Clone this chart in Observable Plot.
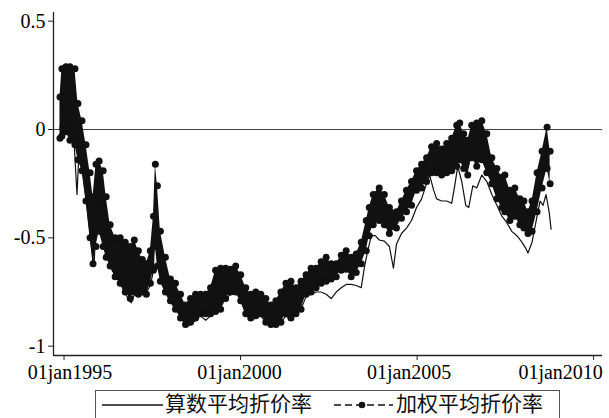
<!DOCTYPE html>
<html>
<head>
<meta charset="utf-8">
<script src="https://cdn.jsdelivr.net/npm/d3@7"></script>
<script src="https://cdn.jsdelivr.net/npm/@observablehq/plot@0.6"></script>
<style>
  body { margin: 0; background: #fff; }
  #chart { position: relative; width: 609px; height: 418px; overflow: hidden; background: #fff; }
  #chart svg { display: block; }
  .legend {
    position: absolute; left: 95px; top: 390px; width: 465px; height: 28px;
    border: 1.5px solid #555; border-bottom: none; box-sizing: border-box; background: #fff;
    font-family: "Noto Sans CJK SC", "Noto Sans", sans-serif; font-size: 21px; color: #111;
  }
  .legend .item { position: absolute; top: 0; height: 22px; line-height: 22px; white-space: nowrap; }
  .legend svg { position: absolute; top: 0; }
</style>
</head>
<body>
<div id="chart"></div>
<script>
// Weighted mean discount rate: daily range (high / low) per period
const wDates = ["1994-11-20","1994-12-10","1995-01-20","1995-03-03","1995-04-24","1995-05-25","1995-07-06","1995-08-16","1995-09-27","1995-10-28","1995-11-28","1995-12-30","1996-02-10","1996-03-12","1996-04-22","1996-06-13","1996-08-04","1996-09-25","1996-11-16","1996-12-28","1997-02-08","1997-03-21","1997-05-02","1997-06-12","1997-07-14","1997-08-03","1997-08-24","1997-09-24","1997-11-15","1998-01-06","1998-02-27","1998-04-20","1998-06-11","1998-08-02","1998-09-23","1998-11-13","1999-01-05","1999-02-25","1999-04-18","1999-06-09","1999-07-31","1999-09-21","1999-11-12","2000-01-03","2000-02-24","2000-04-16","2000-06-07","2000-07-29","2000-09-19","2000-11-10","2001-01-01","2001-02-22","2001-04-15","2001-06-06","2001-07-28","2001-09-18","2001-11-09","2001-12-31","2002-02-21","2002-04-14","2002-06-05","2002-07-27","2002-09-17","2002-11-08","2002-12-29","2003-02-19","2003-04-12","2003-06-03","2003-07-25","2003-08-25","2003-10-05","2003-12-06","2004-01-28","2004-03-20","2004-06-01","2004-07-23","2004-09-13","2004-11-04","2004-12-26","2005-02-16","2005-04-09","2005-05-31","2005-07-22","2005-09-12","2005-11-03","2005-12-25","2006-02-15","2006-03-18","2006-04-28","2006-06-09","2006-07-20","2006-09-10","2006-11-01","2006-12-23","2007-02-13","2007-04-06","2007-05-28","2007-06-28","2007-08-19","2007-10-09","2007-11-30","2008-01-11","2008-02-22","2008-04-04","2008-05-26","2008-07-17","2008-09-07","2008-10-08"];
const wHigh = [0.15,0.28,0.29,0.29,0.28,0.12,0.04,-0.07,-0.20,-0.31,-0.16,-0.145,-0.19,-0.31,-0.44,-0.50,-0.50,-0.52,-0.54,-0.51,-0.56,-0.60,-0.62,-0.56,-0.40,-0.16,-0.26,-0.47,-0.59,-0.69,-0.71,-0.76,-0.81,-0.78,-0.76,-0.76,-0.76,-0.73,-0.65,-0.64,-0.64,-0.645,-0.63,-0.67,-0.73,-0.76,-0.75,-0.76,-0.78,-0.81,-0.79,-0.75,-0.71,-0.70,-0.73,-0.70,-0.67,-0.64,-0.64,-0.61,-0.59,-0.62,-0.62,-0.58,-0.56,-0.59,-0.575,-0.52,-0.42,-0.36,-0.30,-0.27,-0.30,-0.36,-0.38,-0.33,-0.28,-0.24,-0.19,-0.16,-0.13,-0.08,-0.065,-0.09,-0.065,-0.04,0.02,0.03,-0.02,-0.05,0.02,0.03,0.04,-0.02,-0.13,-0.18,-0.22,-0.21,-0.28,-0.27,-0.32,-0.33,-0.38,-0.33,-0.20,-0.10,0.01,-0.10];
const wLow = [-0.04,-0.03,-0.01,-0.05,-0.07,-0.14,-0.19,-0.33,-0.50,-0.62,-0.54,-0.47,-0.54,-0.59,-0.63,-0.68,-0.71,-0.75,-0.78,-0.75,-0.76,-0.75,-0.76,-0.71,-0.65,-0.54,-0.63,-0.70,-0.75,-0.79,-0.83,-0.87,-0.90,-0.89,-0.87,-0.85,-0.85,-0.85,-0.84,-0.83,-0.78,-0.75,-0.75,-0.79,-0.85,-0.87,-0.86,-0.85,-0.89,-0.90,-0.90,-0.89,-0.85,-0.87,-0.85,-0.83,-0.76,-0.75,-0.73,-0.71,-0.70,-0.69,-0.68,-0.65,-0.645,-0.68,-0.66,-0.62,-0.56,-0.49,-0.44,-0.42,-0.44,-0.48,-0.455,-0.41,-0.38,-0.35,-0.28,-0.27,-0.24,-0.20,-0.20,-0.21,-0.20,-0.19,-0.17,-0.14,-0.18,-0.21,-0.13,-0.17,-0.14,-0.20,-0.25,-0.32,-0.36,-0.38,-0.42,-0.40,-0.44,-0.455,-0.48,-0.47,-0.38,-0.27,-0.18,-0.25];

// Arithmetic mean discount rate
const aDates = ["1994-11-20","1994-12-10","1995-01-20","1995-03-03","1995-04-14","1995-05-15","1995-06-05","1995-07-16","1995-08-26","1995-10-07","1995-11-07","1995-12-09","1996-01-10","1996-02-20","1996-04-02","1996-05-13","1996-06-24","1996-08-04","1996-09-15","1996-10-26","1996-11-26","1997-01-08","1997-03-01","1997-04-21","1997-06-12","1997-07-14","1997-08-03","1997-09-03","1997-10-15","1997-12-06","1998-01-27","1998-03-20","1998-05-11","1998-06-21","1998-08-02","1998-09-23","1998-11-13","1999-01-05","1999-02-25","1999-04-18","1999-06-09","1999-07-31","1999-09-21","1999-11-12","2000-01-03","2000-02-24","2000-04-16","2000-06-07","2000-07-29","2000-09-19","2000-11-10","2001-01-01","2001-02-22","2001-04-15","2001-06-06","2001-07-28","2001-09-18","2001-11-09","2001-12-31","2002-02-21","2002-04-14","2002-06-05","2002-07-27","2002-09-17","2002-11-08","2002-12-29","2003-02-19","2003-04-12","2003-06-03","2003-07-04","2003-08-04","2003-09-15","2003-10-26","2003-12-06","2004-01-28","2004-03-20","2004-05-01","2004-06-01","2004-07-23","2004-09-13","2004-11-04","2004-12-26","2005-02-16","2005-04-09","2005-05-10","2005-06-21","2005-07-22","2005-09-12","2005-11-03","2005-12-25","2006-01-25","2006-02-25","2006-04-08","2006-05-19","2006-06-19","2006-07-31","2006-09-10","2006-11-01","2006-12-23","2007-02-13","2007-04-06","2007-05-28","2007-07-18","2007-09-08","2007-10-30","2007-12-21","2008-02-01","2008-02-22","2008-04-04","2008-05-26","2008-06-26","2008-07-27","2008-08-27","2008-09-28","2008-10-18"];
const aValues = [0.00,0.09,0.10,0.02,-0.05,-0.30,-0.10,-0.21,-0.35,-0.52,-0.63,-0.33,-0.24,-0.47,-0.60,-0.65,-0.68,-0.71,-0.75,-0.78,-0.80,-0.75,-0.76,-0.76,-0.72,-0.65,-0.33,-0.63,-0.72,-0.77,-0.81,-0.84,-0.88,-0.91,-0.90,-0.88,-0.86,-0.88,-0.86,-0.83,-0.82,-0.78,-0.76,-0.75,-0.79,-0.85,-0.88,-0.87,-0.86,-0.89,-0.91,-0.90,-0.89,-0.86,-0.88,-0.85,-0.83,-0.77,-0.76,-0.75,-0.75,-0.76,-0.78,-0.75,-0.73,-0.715,-0.715,-0.72,-0.73,-0.64,-0.57,-0.49,-0.49,-0.51,-0.515,-0.54,-0.64,-0.53,-0.48,-0.455,-0.42,-0.36,-0.32,-0.25,-0.21,-0.28,-0.32,-0.33,-0.33,-0.34,-0.26,-0.17,-0.24,-0.35,-0.36,-0.26,-0.27,-0.21,-0.24,-0.30,-0.35,-0.40,-0.43,-0.47,-0.49,-0.52,-0.55,-0.57,-0.52,-0.40,-0.33,-0.35,-0.30,-0.38,-0.46];

// Axis ticks
const xTicks = ["1995-01-01","2000-01-01","2005-01-01","2010-01-01"];
const yTicks = [-1, -0.5, 0, 0.5];
const seriesNames = ["算数平均折价率", "加权平均折价率"];

const parse = d3.utcParse("%Y-%m-%d");
const weighted = wDates.map((d, i) => ({date: parse(d), hi: wHigh[i], lo: wLow[i]}));
const arith = aDates.map((d, i) => ({date: parse(d), v: aValues[i]}));

const xDomain = [parse("1994-09-14"), parse("2010-04-03")];
const yDomain = [-1.043, 0.54];

const fmtDay = d3.utcFormat("%d"), fmtMon = d3.utcFormat("%b"), fmtYear = d3.utcFormat("%Y");
const dateLabel = d => fmtDay(d) + fmtMon(d).toLowerCase() + fmtYear(d);

const ink = "#111";

const chart = Plot.plot({
  width: 609,
  height: 388,
  marginLeft: 53,
  marginRight: 7,
  marginTop: 12,
  marginBottom: 33,
  x: {type: "utc", domain: xDomain},
  y: {domain: yDomain},
  style: {
    fontFamily: "'Liberation Serif', 'Times New Roman', serif",
    fontSize: "20px",
    color: "#000",
    background: "#fff"
  },
  marks: [
    Plot.ruleY([0], {stroke: "#444", strokeWidth: 1.2}),
    Plot.areaY(weighted, {x: "date", y1: "lo", y2: "hi", fill: ink}),
    Plot.dot(weighted, {x: "date", y: "hi", r: 3.5, fill: ink}),
    Plot.dot(weighted, {x: "date", y: "lo", r: 3.5, fill: ink}),
    Plot.lineY(arith, {x: "date", y: "v", stroke: ink, strokeWidth: 1.2}),
    Plot.ruleX([xDomain[0]], {stroke: "#222", strokeWidth: 1.3}),
    Plot.ruleY([yDomain[0]], {stroke: "#222", strokeWidth: 1.3}),
    Plot.axisY({ticks: yTicks, tickFormat: d => String(d), tickSize: 5, tickPadding: 3, label: null, stroke: "#222"}),
    Plot.axisX({ticks: xTicks.map(parse), tickFormat: dateLabel, tickSize: 5, tickPadding: 4, label: null, stroke: "#222"})
  ]
});

// Keep the outer date labels inside the canvas
const labelNudge = [6, -1, -8, -33];
d3.select(chart).selectAll('g[aria-label="x-axis tick label"] text').attr("dx", (d, i) => labelNudge[i] ?? 0);

const root = document.getElementById("chart");
root.appendChild(chart);

// Legend below the plot
const legend = document.createElement("div");
legend.className = "legend";
legend.innerHTML = `
  <svg width="64" height="26" style="left:5px">
    <line x1="1" x2="62" y1="14" y2="14" stroke="${ink}" stroke-width="1.4"/>
  </svg>
  <span class="item" style="left:69px">${seriesNames[0]}</span>
  <svg width="62" height="26" style="left:237px">
    <line x1="1" x2="60" y1="14" y2="14" stroke="${ink}" stroke-width="1.4" stroke-dasharray="7,4"/>
    <circle cx="29" cy="14" r="3.3" fill="${ink}"/>
  </svg>
  <span class="item" style="left:300px">${seriesNames[1]}</span>`;
root.appendChild(legend);
</script>
</body>
</html>
